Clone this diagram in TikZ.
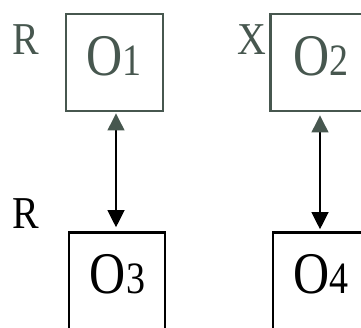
\documentclass[tikz,border=0pt]{standalone}
\usepackage{fontspec}
\usepackage{graphicx}
\setmainfont{Liberation Serif}
\usetikzlibrary{arrows.meta,calc}
\definecolor{topc}{HTML}{47574F}
\newcommand{\objlbl}[1]{\scalebox{1}[1.18]{\fontsize{50}{50}\selectfont O\fontsize{38}{38}\selectfont #1}}
\newcommand{\sidelbl}[1]{\scalebox{1.05}[1.2]{\fontsize{38}{38}\selectfont #1}}
\begin{document}
\begin{tikzpicture}[x=1pt,y=1pt,
  box/.style={draw, line width=2.6pt, inner sep=0pt},
  lbl/.style={inner sep=0pt, anchor=base},
  side/.style={inner sep=0pt, anchor=base},
  conn/.style={line width=1.2pt, {Triangle[width=17pt,length=17pt,color=topc]}-{Triangle[width=17pt,length=17pt]}}]
\useasboundingbox (0,0) rectangle (361,327);
\clip (0,0) rectangle (361,327);
% boxes
\node[box, draw=topc, line width=2.9pt, minimum width=97pt, minimum height=97pt] (O1) at (114.5,264.5) {};
\node[box, draw=topc, line width=2.9pt, minimum width=104pt, minimum height=97pt] (O2) at (322.5,264.5) {};
\node[box, minimum width=96pt, minimum height=97pt] (O3) at (117,46) {};
\node[box, minimum width=100pt, minimum height=97pt] (O4) at (323,46) {};
% box texts
\node[lbl, text=topc] (t1) at (114,251) {\objlbl{1}};
\node[lbl, text=topc] (t2) at (321,251) {\objlbl{2}};
\node[lbl] (t3) at (117.5,34) {\objlbl{3}};
\node[lbl] (t4) at (321,34) {\objlbl{4}};
% side labels
\node[side, text=topc] (r1) at (25.5,272) {\sidelbl{R}};
\node[side, text=topc] (x1) at (252,272) {\sidelbl{X}};
\node[side] (r2) at (25.5,99) {\sidelbl{R}};
% connectors
\coordinate (a1) at (116,0);
\coordinate (a2) at (320,0);
\draw[conn, shorten <=1pt, shorten >=4pt] (O1.south -| a1) -- (O3.north -| a1);
\draw[conn, shorten <=3pt, shorten >=2pt] (O2.south -| a2) -- (O4.north -| a2);
\end{tikzpicture}
\end{document}
